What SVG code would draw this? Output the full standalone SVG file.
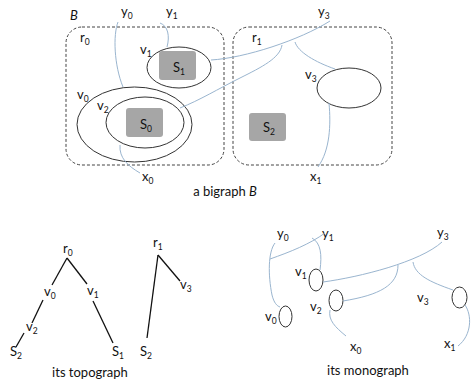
<svg xmlns="http://www.w3.org/2000/svg" width="474" height="386" viewBox="0 0 474 386">
<style>
text{font-family:Lato,"Liberation Sans",sans-serif;font-size:13px;fill:#111}
.sub{font-size:8.5px}
.cap{font-size:13px}
.region{fill:none;stroke:#444;stroke-width:1;stroke-dasharray:3,2}
.node{fill:none;stroke:#333;stroke-width:1}
.site{fill:#a6a6a6;stroke:none}
.link{fill:none;stroke:#9ab5cf;stroke-width:1}
.tree{stroke:#111;stroke-width:1.3;fill:none}
</style>
<rect width="474" height="386" fill="#fff"/>

<!-- Bigraph B -->
<g id="bigraph">
  <text x="70" y="20" font-style="italic">B</text>
  <g id="r0">
    <rect class="region" x="66" y="27" width="158" height="138" rx="16"/>
    <text x="80" y="42">r<tspan class="sub" dy="3">0</tspan></text>
  </g>
  <g id="r1">
    <rect class="region" x="233" y="27" width="159" height="138" rx="16"/>
    <text x="252" y="42">r<tspan class="sub" dy="3">1</tspan></text>
  </g>
  <g id="v1">
    <ellipse class="node" cx="179" cy="67.5" rx="32" ry="20.5"/>
    <text x="140" y="54">v<tspan class="sub" dy="3">1</tspan></text>
  </g>
  <g id="S1">
    <rect class="site" x="159" y="51" width="37" height="29" rx="3"/>
    <text x="173" y="72">S<tspan class="sub" dy="3">1</tspan></text>
  </g>
  <g id="v0">
    <ellipse class="node" cx="134.5" cy="124.5" rx="57.5" ry="37.5"/>
    <text x="77" y="99">v<tspan class="sub" dy="3">0</tspan></text>
  </g>
  <g id="v2">
    <ellipse class="node" cx="145" cy="122.5" rx="39" ry="25.5"/>
    <text x="97" y="110">v<tspan class="sub" dy="3">2</tspan></text>
  </g>
  <g id="S0">
    <rect class="site" x="126" y="108" width="37" height="29" rx="3"/>
    <text x="140" y="129">S<tspan class="sub" dy="3">0</tspan></text>
  </g>
  <g id="v3">
    <ellipse class="node" cx="349" cy="88" rx="32" ry="20"/>
    <text x="305" y="79">v<tspan class="sub" dy="3">3</tspan></text>
  </g>
  <g id="S2">
    <rect class="site" x="249" y="113" width="37" height="28" rx="3"/>
    <text x="263" y="132">S<tspan class="sub" dy="3">2</tspan></text>
  </g>
  <g id="y0"><text x="121" y="16">y<tspan class="sub" dy="3">0</tspan></text></g>
  <g id="y1"><text x="166" y="16">y<tspan class="sub" dy="3">1</tspan></text></g>
  <g id="y3"><text x="318" y="16">y<tspan class="sub" dy="3">3</tspan></text></g>
  <g id="x0"><text x="142" y="181">x<tspan class="sub" dy="3">0</tspan></text></g>
  <g id="x1"><text x="310" y="181">x<tspan class="sub" dy="3">1</tspan></text></g>
  <g id="bigraph-links">
    <path class="link" d="M118,22 C113,35 114,65 123,87"/>
    <path class="link" d="M160,23 C168,26 170,36 167,47"/>
    <path class="link" d="M120,145 C119,158 128,166 140,173"/>
    <path class="link" d="M211,60 C245,58 300,40 330,21"/>
    <path class="link" d="M282,45 C280,58 262,67 240,78 S200,100 180,108"/>
    <path class="link" d="M295,42 C298,52 315,62 335,69"/>
    <path class="link" d="M329,103 C331,125 330,150 318,167"/>
  </g>
  <text class="cap" x="225" y="196" text-anchor="middle">a bigraph <tspan font-style="italic">B</tspan></text>
</g>

<!-- Topograph -->
<g id="topograph">
  <g id="tree-edges">
    <line class="tree" x1="67" y1="258" x2="52" y2="285"/>
    <line class="tree" x1="67" y1="258" x2="87" y2="284"/>
    <line class="tree" x1="43" y1="300" x2="32" y2="323"/>
    <line class="tree" x1="24" y1="333" x2="16" y2="347"/>
    <line class="tree" x1="93" y1="301" x2="113" y2="343"/>
    <line class="tree" x1="158" y1="255" x2="147" y2="338"/>
    <line class="tree" x1="158" y1="255" x2="180" y2="281"/>
  </g>
  <g id="t-r0"><text x="63" y="253">r<tspan class="sub" dy="3">0</tspan></text></g>
  <g id="t-v0"><text x="44" y="296">v<tspan class="sub" dy="3">0</tspan></text></g>
  <g id="t-v1"><text x="87" y="295">v<tspan class="sub" dy="3">1</tspan></text></g>
  <g id="t-v2"><text x="26" y="331">v<tspan class="sub" dy="3">2</tspan></text></g>
  <g id="t-S2a"><text x="10" y="356">S<tspan class="sub" dy="3">2</tspan></text></g>
  <g id="t-S1"><text x="112" y="356">S<tspan class="sub" dy="3">1</tspan></text></g>
  <g id="t-r1"><text x="153" y="247">r<tspan class="sub" dy="3">1</tspan></text></g>
  <g id="t-v3"><text x="180" y="289">v<tspan class="sub" dy="3">3</tspan></text></g>
  <g id="t-S2b"><text x="140" y="356">S<tspan class="sub" dy="3">2</tspan></text></g>
  <text class="cap" x="90" y="377" text-anchor="middle">its topograph</text>
</g>

<!-- Monograph -->
<g id="monograph">
  <g id="m-v1"><ellipse class="node" cx="316" cy="280" rx="7" ry="11"/><text x="295" y="276">v<tspan class="sub" dy="3">1</tspan></text></g>
  <g id="m-v2"><ellipse class="node" cx="336" cy="300.5" rx="7" ry="10.5"/><text x="310" y="311">v<tspan class="sub" dy="3">2</tspan></text></g>
  <g id="m-v0"><ellipse class="node" cx="285.5" cy="316.5" rx="6.5" ry="10.5"/><text x="265" y="321">v<tspan class="sub" dy="3">0</tspan></text></g>
  <g id="m-v3"><ellipse class="node" cx="459.5" cy="297.5" rx="7.5" ry="10.5"/><text x="417" y="302">v<tspan class="sub" dy="3">3</tspan></text></g>
  <g id="m-y0"><text x="277" y="238">y<tspan class="sub" dy="3">0</tspan></text></g>
  <g id="m-y1"><text x="322" y="238">y<tspan class="sub" dy="3">1</tspan></text></g>
  <g id="m-y3"><text x="437" y="237">y<tspan class="sub" dy="3">3</tspan></text></g>
  <g id="m-x0"><text x="350" y="351">x<tspan class="sub" dy="3">0</tspan></text></g>
  <g id="m-x1"><text x="444" y="348">x<tspan class="sub" dy="3">1</tspan></text></g>
  <g id="monograph-links">
    <path class="link" d="M275,243 C268,252 268,275 272,295 C274,303 277,306 280,307"/>
    <path class="link" d="M270,259 C290,252 310,244 325,233"/>
    <path class="link" d="M312,238 C321,243 322,255 320,270"/>
    <path class="link" d="M323,282 C360,277 420,262 442,242"/>
    <path class="link" d="M398,265 C398,285 380,295 343,301"/>
    <path class="link" d="M413,262 C415,275 430,282 453,290"/>
    <path class="link" d="M465,305 C472,315 472,335 458,346"/>
    <path class="link" d="M330,310 C328,320 335,327 346,336"/>
  </g>
  <text class="cap" x="368" y="375" text-anchor="middle">its monograph</text>
</g>
</svg>
